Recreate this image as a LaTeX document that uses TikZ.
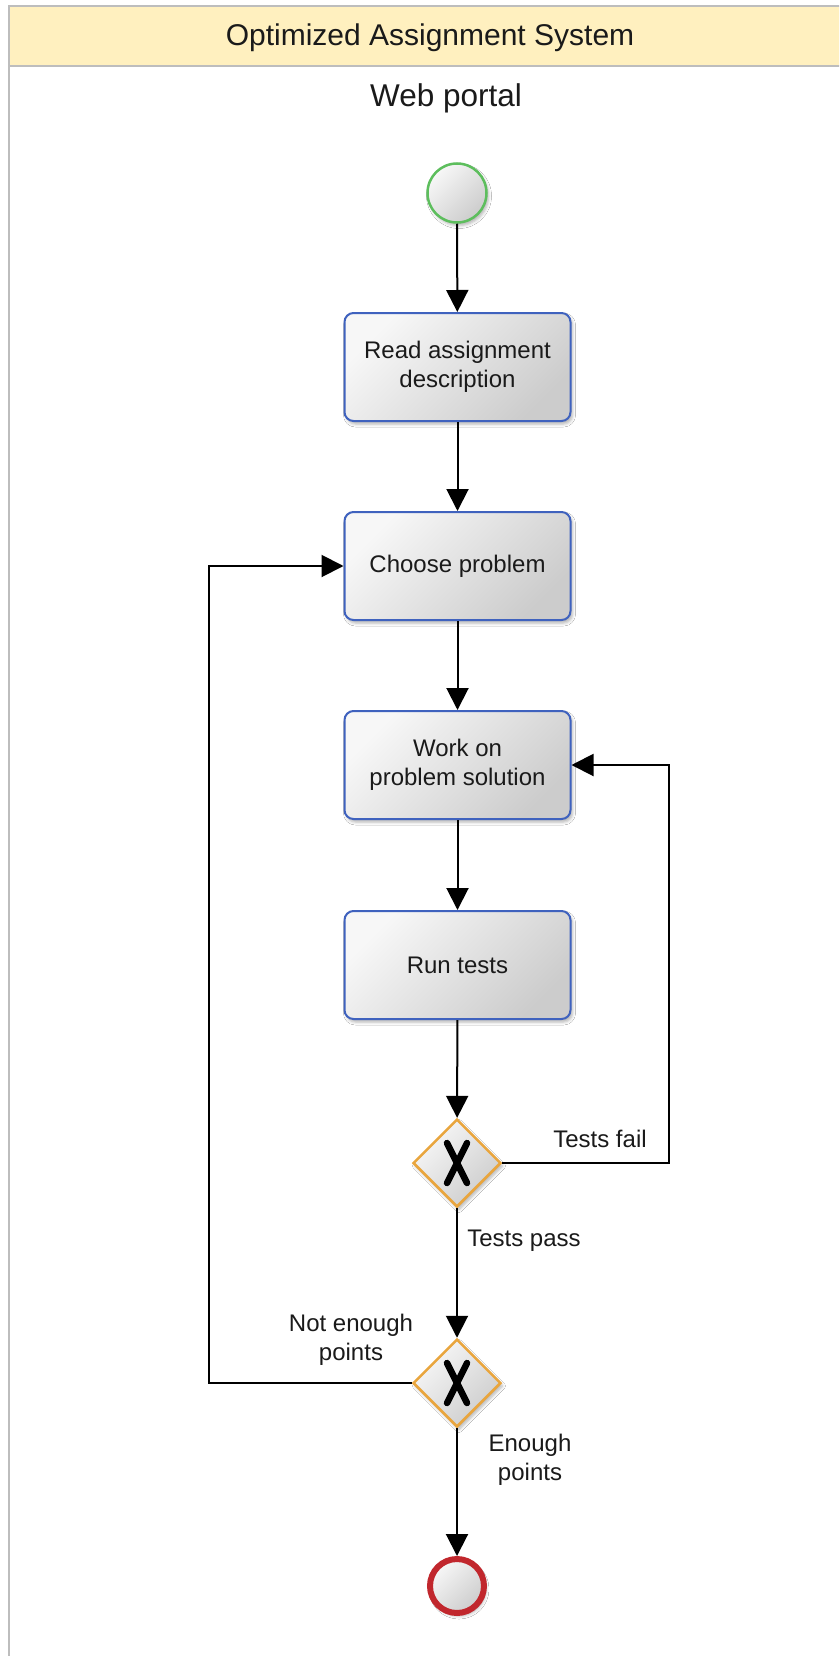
\documentclass[tikz,border=0pt]{standalone}
\usepackage{fontspec}
\setmainfont{Liberation Sans}
\usetikzlibrary{arrows.meta,shapes.geometric,shadows.blur}

\definecolor{taskblue}{HTML}{3F62BE}
\definecolor{gworange}{HTML}{E9A53D}
\definecolor{startgreen}{HTML}{5DBE5D}
\definecolor{endred}{HTML}{C1272D}
\definecolor{headfill}{HTML}{FFF0BF}
\definecolor{frameline}{HTML}{BDBDBD}
\definecolor{inkdark}{HTML}{1A1A1A}

\begin{document}
\begin{tikzpicture}[x=1pt,y=-1pt,
  every node/.style={text=inkdark},
  softshade/.style={shading=axis, top color=white!97!black, bottom color=white!80!black, shading angle=45},
  dropshade/.style={blur shadow={shadow xshift=2pt, shadow yshift=-3pt, shadow blur radius=3pt, shadow opacity=30}},
  task/.style={draw=taskblue, line width=2pt, rounded corners=9pt, softshade, dropshade,
    minimum width=226pt, minimum height=108pt, align=center, font=\fontsize{24}{29}\selectfont},
  gateway/.style={diamond, draw=gworange, line width=2.5pt, softshade, dropshade,
    minimum width=88pt, minimum height=88pt, inner sep=0pt},
  xmark/.style={line width=6.5pt, line cap=round, black},
  startev/.style={circle, draw=startgreen, line width=2.5pt, softshade, dropshade, minimum size=59pt, inner sep=0pt},
  endev/.style={circle, draw=endred, line width=6pt, softshade, dropshade, minimum size=54pt, inner sep=0pt},
  flowlabel/.style={align=center, font=\fontsize{24}{29}\selectfont, inner sep=0pt},
  flow/.style={line width=2pt, -{Triangle[length=22pt,width=22pt]}},
  lanefont/.style={font=\fontsize{30}{36}\selectfont, inner sep=0pt}
]
\useasboundingbox (0,0) rectangle (839,1656);
\clip (0,0) rectangle (839,1656);
\fill[white] (0,0) rectangle (839,1656);

% pool frame and header band
\draw[frameline, line width=2.2pt, fill=headfill] (9,6) rectangle (860,66);
\draw[frameline, line width=2.5pt] (9,66) -- (9,1670);
\node[lanefont] (pool) at (430,38) {Optimized Assignment System};
\node[lanefont, font=\fontsize{31.5}{36}\selectfont] (lane) at (446,98) {Web portal};

% events, tasks and gateways
\node[startev] (start) at (457,193) {};
\node[task] (read) at (457.5,367) {Read assignment\\description};
\node[task] (choose) at (457.5,566) {Choose problem};
\node[task] (work) at (457.5,765) {Work on\\problem solution};
\node[task] (tests) at (457.5,965) {Run tests};
\node[gateway] (gw1) at (457,1163) {};
\node[gateway] (gw2) at (457,1383) {};
\node[endev] (stop) at (457,1586) {};

% exclusive gateway markers
\foreach \g in {gw1,gw2}{
  \draw[xmark] ([xshift=-10pt,yshift=20pt]\g.center) -- ([xshift=10pt,yshift=-20pt]\g.center);
  \draw[xmark] ([xshift=10pt,yshift=20pt]\g.center) -- ([xshift=-10pt,yshift=-20pt]\g.center);
}

% routing columns for the loops
\coordinate (failx) at (669,0);
\coordinate (retryx) at (209,0);

% sequence flows
\draw[flow] (start) -- (read);
\draw[flow] (read) -- (choose);
\draw[flow] (choose) -- (work);
\draw[flow] (work) -- (tests);
\draw[flow] (tests) -- (gw1);
\draw[flow] (gw1) -- (gw2);
\draw[flow] (gw2) -- (stop);
\draw[flow] (gw1.east) -- (gw1.east -| failx) -- (work.east -| failx) -- (work.east);
\draw[flow] (gw2.west) -- (gw2.west -| retryx) -- (choose.west -| retryx) -- (choose.west);

% flow labels
\node[flowlabel] (lfail) at (600,1139) {Tests fail};
\node[flowlabel] (lpass) at (524,1241) {Tests pass};
\node[flowlabel] (lnot) at (351,1340) {Not enough\\points};
\node[flowlabel] (lenough) at (530,1460) {Enough\\points};
\end{tikzpicture}
\end{document}
